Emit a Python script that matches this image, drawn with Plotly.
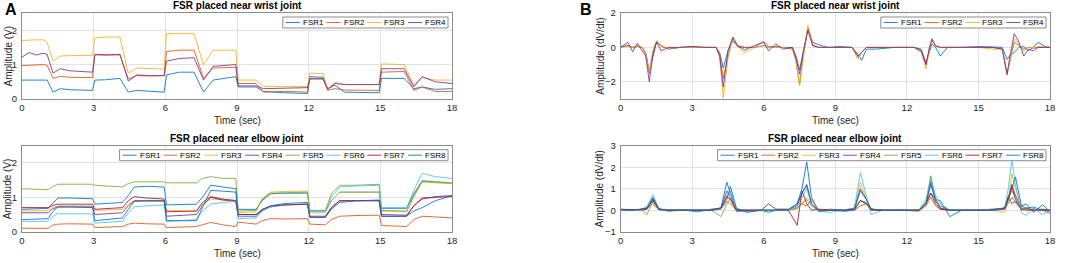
import plotly.graph_objects as go

# ---------------- DATA ----------------
names4 = ["FSR1", "FSR2", "FSR3", "FSR4"]
names8 = ["FSR1", "FSR2", "FSR3", "FSR4", "FSR5", "FSR6", "FSR7", "FSR8"]
colors8 = ["#0072BD", "#D95319", "#EDB120", "#7E2F8E", "#77AC30", "#4DBEEE", "#A2142F", "#0072BD"]
x_ticks = [0, 3, 6, 9, 12, 15, 18]

# Panel A (top): wrist, amplitude (V)
wrist_t = [0, 0.3, 0.6, 0.9, 1.05, 1.3, 1.6, 2.0, 2.95, 3.05, 3.5, 4.1, 4.45, 4.8, 5.3, 5.95, 6.05, 6.6, 7.2, 7.6,
           8.0, 8.95, 9.05, 9.8, 10.1, 11.0, 11.95, 12.05, 12.6, 12.8, 13.1, 13.5, 14.95, 15.05, 16.0, 16.4, 16.75, 17.3, 18.0]
wrist_fsr1 = [0.55, 0.55, 0.56, 0.57, 0.55, 0.2, 0.3, 0.27, 0.25, 0.55, 0.56, 0.6, 0.2, 0.25, 0.22, 0.2, 0.7, 0.78, 0.78, 0.2,
              0.55, 0.65, 0.35, 0.35, 0.22, 0.18, 0.16, 0.65, 0.63, 0.3, 0.4, 0.2, 0.18, 0.6, 0.6, 0.3, 0.35, 0.28, 0.3]
wrist_fsr2 = [0.97, 0.98, 1.0, 1.0, 0.98, 0.6, 0.66, 0.63, 0.62, 1.28, 1.28, 1.28, 0.58, 0.68, 0.67, 0.68, 1.38, 1.42, 1.42, 0.6,
              0.9, 0.92, 0.45, 0.45, 0.2, 0.22, 0.2, 0.6, 0.6, 0.25, 0.3, 0.26, 0.25, 0.78, 0.8, 0.25, 0.35, 0.22, 0.22]
wrist_fsr3 = [1.7, 1.72, 1.72, 1.72, 1.65, 1.1, 1.25, 1.26, 1.27, 1.77, 1.8, 1.8, 0.75, 0.9, 0.88, 0.87, 1.9, 1.9, 1.9, 1.0,
              1.42, 1.42, 0.55, 0.55, 0.37, 0.36, 0.36, 0.75, 0.74, 0.3, 0.48, 0.42, 0.42, 1.02, 1.0, 0.4, 0.62, 0.55, 0.55]
wrist_fsr4 = [1.22, 1.35, 1.28, 1.33, 1.3, 0.75, 0.88, 0.82, 0.78, 1.3, 1.28, 1.3, 0.52, 0.7, 0.68, 0.68, 1.1, 1.18, 1.2, 0.55,
              0.95, 1.0, 0.38, 0.38, 0.3, 0.32, 0.33, 0.58, 0.58, 0.28, 0.45, 0.42, 0.42, 0.88, 0.88, 0.35, 0.65, 0.5, 0.45]

# Panel A (bottom): elbow, amplitude (V)
elbow_t = [0, 1.1, 1.25, 1.5, 2.0, 2.95, 3.05, 4.2, 4.45, 4.7, 5.2, 5.95, 6.05, 7.3, 7.55, 7.9, 8.4, 8.95, 9.05, 9.8,
           10.05, 10.4, 11.0, 11.95, 12.05, 12.7, 12.95, 13.3, 14.0, 14.95, 15.05, 16.1, 16.4, 16.75, 17.3, 18.0]
elbow_fsr1 = [0.65, 0.68, 0.8, 0.98, 0.98, 0.96, 0.8, 0.85, 1.05, 1.3, 1.32, 1.3, 0.78, 0.8, 1.0, 1.35, 1.3, 1.25, 0.65, 0.65,
              0.9, 1.1, 1.12, 1.12, 0.6, 0.6, 0.9, 1.15, 1.15, 1.15, 0.68, 0.68, 1.1, 1.48, 1.45, 1.4]
elbow_fsr2 = [0.1, 0.1, 0.18, 0.22, 0.23, 0.22, 0.12, 0.15, 0.22, 0.25, 0.23, 0.22, 0.12, 0.15, 0.2, 0.27, 0.2, 0.15, 0.28, 0.22,
              0.32, 0.38, 0.37, 0.38, 0.22, 0.2, 0.35, 0.45, 0.47, 0.48, 0.18, 0.15, 0.35, 0.45, 0.43, 0.4]
elbow_fsr3 = [0.6, 0.62, 0.7, 0.75, 0.75, 0.75, 0.62, 0.65, 0.8, 0.9, 0.88, 0.88, 0.62, 0.6, 0.8, 0.95, 0.93, 0.92, 0.55, 0.58,
              0.95, 1.15, 1.17, 1.18, 0.55, 0.55, 0.9, 1.15, 1.15, 1.15, 0.6, 0.58, 1.0, 1.45, 1.42, 1.4]
elbow_fsr4 = [0.55, 0.55, 0.65, 0.72, 0.72, 0.72, 0.5, 0.55, 0.75, 0.9, 0.9, 0.9, 0.45, 0.5, 0.75, 1.0, 0.92, 0.88, 0.5, 0.5,
              0.62, 0.72, 0.78, 0.8, 0.45, 0.45, 0.7, 0.9, 0.9, 0.92, 0.5, 0.48, 0.75, 0.95, 1.02, 1.05]
elbow_fsr5 = [1.25, 1.22, 1.3, 1.38, 1.38, 1.38, 1.35, 1.3, 1.4, 1.45, 1.45, 1.45, 1.42, 1.42, 1.55, 1.6, 1.55, 1.55, 0.6, 0.62,
              0.95, 1.12, 1.13, 1.15, 0.62, 0.62, 1.1, 1.35, 1.35, 1.38, 0.62, 0.6, 1.05, 1.45, 1.45, 1.42]
elbow_fsr6 = [0.3, 0.3, 0.42, 0.52, 0.52, 0.52, 0.25, 0.3, 0.55, 0.72, 0.75, 0.78, 0.3, 0.35, 0.6, 0.8, 0.85, 0.88, 0.38, 0.4,
              0.6, 0.72, 0.78, 0.8, 0.6, 0.6, 1.0, 1.3, 1.33, 1.35, 0.7, 0.7, 1.2, 1.7, 1.6, 1.55]
elbow_fsr7 = [0.7, 0.7, 0.76, 0.8, 0.8, 0.8, 0.65, 0.7, 0.9, 1.02, 0.98, 0.95, 0.58, 0.6, 0.85, 1.02, 0.95, 0.9, 0.5, 0.5,
              0.65, 0.75, 0.78, 0.8, 0.42, 0.42, 0.7, 0.9, 0.9, 0.9, 0.45, 0.45, 0.75, 0.98, 1.0, 1.02]
elbow_fsr8 = [0.35, 0.38, 0.55, 0.72, 0.72, 0.7, 0.32, 0.4, 0.65, 0.88, 0.9, 0.9, 0.32, 0.32, 0.7, 1.2, 1.18, 1.15, 0.45, 0.45,
              0.62, 0.75, 0.82, 0.85, 0.42, 0.42, 0.65, 0.85, 0.9, 0.9, 0.45, 0.45, 0.6, 0.7, 0.9, 1.05]

# Panel B (top): wrist, derivative (dV/dt)
dwrist_t = [0, 0.3, 0.5, 0.7, 0.9, 1.05, 1.2, 1.35, 1.5, 1.7, 2.0, 2.5, 3.0, 3.5, 4.0, 4.15, 4.3, 4.5, 4.7, 4.9,
            5.2, 5.6, 6.0, 6.2, 6.5, 6.8, 7.2, 7.35, 7.5, 7.65, 7.85, 8.05, 8.3, 8.7, 9.2, 9.7, 9.95, 10.1, 10.3, 10.7,
            11.5, 12.3, 12.6, 12.8, 12.95, 13.05, 13.2, 13.4, 13.7, 14.2, 15.0, 15.6, 16.0, 16.2, 16.35, 16.5, 16.7, 16.9,
            17.1, 17.3, 17.5, 17.8, 18.0]
dwrist_fsr1 = [0.05, 0.1, 0.0, 0.05, 0.0, -0.3, -1.4, -0.5, 0.3, 0.1, -0.1, 0.0, 0.05, 0.0, 0.0, -0.3, -1.2, -0.2, 0.4, 0.05,
               0.0, 0.0, 0.1, 0.0, 0.05, 0.0, 0.0, -0.5, -1.3, -0.3, 1.1, 0.3, 0.15, 0.0, 0.05, 0.0, -0.4, -0.75, -0.1, -0.1,
               0.0, 0.0, -0.1, -0.9, -0.3, 0.2, 0.0, -0.5, 0.0, 0.0, 0.05, 0.0, 0.0, -0.7, -0.4, -0.3, 0.0, 0.05,
               -0.2, 0.0, 0.3, 0.05, 0.0]
dwrist_fsr2 = [0.0, 0.1, 0.0, 0.1, 0.0, -0.4, -1.5, -0.3, 0.35, 0.05, -0.05, 0.0, 0.0, 0.0, 0.0, -0.4, -1.8, -0.5, 0.55, 0.1,
               0.0, 0.0, 0.35, 0.05, 0.0, 0.0, -0.1, -0.8, -2.2, -0.5, 1.1, 0.1, 0.0, 0.0, 0.0, 0.0, -0.6, -0.3, 0.0, 0.0,
               0.0, 0.0, -0.2, -1.0, 0.0, 0.45, 0.1, 0.0, 0.0, 0.0, 0.0, 0.0, -0.1, -1.6, -0.6, 0.3, 0.1, -0.1,
               0.0, -0.05, 0.0, 0.0, 0.0]
dwrist_fsr3 = [0.0, 0.05, 0.0, 0.05, 0.0, -0.4, -1.4, -0.2, 0.4, 0.1, -0.05, 0.0, 0.0, 0.0, 0.0, -0.6, -2.95, -0.6, 0.6, 0.05,
               -0.3, 0.0, 0.1, 0.0, 0.0, 0.0, -0.1, -0.8, -2.2, -0.6, 1.3, 0.2, 0.0, 0.0, 0.0, 0.0, -0.7, -0.3, 0.0, 0.0,
               0.0, 0.0, -0.3, -1.25, -0.1, 0.4, 0.05, 0.0, 0.0, 0.0, 0.0, -0.1, -0.1, -1.5, -0.4, 0.5, 0.2, -0.2,
               0.0, 0.0, 0.05, 0.0, 0.0]
dwrist_fsr4 = [0.0, 0.3, -0.25, 0.25, -0.2, -0.5, -2.0, -0.4, 0.3, -0.2, 0.0, 0.0, 0.05, 0.0, 0.0, -0.5, -2.3, -0.2, 0.6, 0.1,
               -0.15, 0.1, 0.3, -0.2, 0.2, -0.1, 0.0, -0.6, -1.55, -0.3, 1.0, 0.1, 0.0, 0.0, 0.0, 0.0, -0.5, -0.3, 0.0, 0.0,
               0.0, 0.0, -0.2, -1.0, 0.0, 0.5, 0.1, 0.0, 0.0, 0.0, 0.0, 0.0, -0.1, -1.55, -0.3, 0.8, 0.3, -0.5,
               -0.1, -0.2, 0.0, 0.0, 0.0]

# Panel B (bottom): elbow, derivative (dV/dt)
delbow_t = [0, 0.5, 0.9, 1.1, 1.35, 1.6, 2.0, 2.6, 3.2, 3.8, 4.2, 4.45, 4.6, 4.85, 5.3, 5.9, 6.2, 6.5, 7.0, 7.4,
            7.6, 7.8, 8.0, 8.3, 8.8, 9.4, 9.8, 10.05, 10.3, 10.5, 11.0, 11.8, 12.5, 12.8, 13.0, 13.2, 13.4, 13.8, 14.3, 15.0,
            15.6, 16.1, 16.25, 16.4, 16.55, 16.8, 17.0, 17.3, 17.7, 18.0]
delbow_fsr1 = [0.02, 0.0, 0.05, 0.1, 0.6, 0.05, -0.05, 0.03, -0.08, 0.05, 0.1, 1.3, 0.8, -0.05, -0.05, 0.0, -0.1, 0.0, 0.02, 0.3,
               1.0, 2.25, 0.6, -0.05, 0.0, -0.05, 0.0, 0.45, 0.35, 0.05, 0.0, 0.0, 0.0, 0.3, 0.8, 0.5, 0.45, -0.3, 0.0, 0.0,
               0.05, 0.1, 0.65, 0.3, 0.4, 0.2, 0.3, -0.1, 0.25, -0.1]
delbow_fsr2 = [0.0, 0.02, 0.0, 0.05, 0.3, 0.0, 0.02, 0.0, 0.0, 0.02, 0.1, 0.4, 0.3, 0.0, 0.0, 0.02, 0.0, 0.0, 0.0, 0.1,
               0.3, 0.2, 0.5, 0.0, 0.05, 0.0, 0.0, 0.2, 0.3, 0.05, 0.0, 0.0, -0.05, 0.2, 0.6, 0.2, 0.05, 0.0, 0.0, 0.0,
               0.0, 0.05, 0.3, 0.6, 0.35, 0.05, 0.0, 0.05, 0.0, -0.15]
delbow_fsr3 = [0.0, 0.0, 0.02, 0.1, 0.45, 0.05, 0.0, 0.0, 0.0, 0.0, 0.1, 0.6, 0.5, 0.0, 0.0, 0.0, 0.0, 0.0, 0.0, 0.05,
               0.3, 0.6, 0.3, 0.0, 0.0, 0.0, 0.1, 1.3, 0.5, 0.05, 0.0, 0.0, 0.0, 0.4, 1.55, 0.6, 0.1, 0.0, 0.0, 0.0,
               0.0, -0.1, 0.4, 1.7, 1.0, 0.2, 0.0, 0.05, 0.0, -0.05]
delbow_fsr4 = [0.0, 0.0, 0.02, 0.05, 0.5, 0.05, 0.0, 0.0, 0.0, 0.0, 0.1, 0.9, 0.6, 0.0, 0.0, 0.0, 0.0, 0.0, 0.0, 0.2,
               0.8, 1.15, 0.3, 0.0, 0.0, 0.0, 0.1, 1.0, 0.5, 0.05, 0.0, 0.0, 0.0, 0.3, 1.2, 0.5, 0.1, 0.0, 0.0, 0.0,
               0.0, 0.05, 0.5, 1.2, 0.7, 0.1, 0.0, 0.0, 0.05, 0.0]
delbow_fsr5 = [0.0, 0.0, 0.0, -0.2, 0.4, 0.05, 0.0, 0.0, 0.0, 0.0, -0.3, 0.3, 0.55, 0.05, 0.0, 0.0, 0.0, 0.0, 0.0, 0.1,
               0.3, 0.5, 0.2, 0.0, 0.0, 0.0, 0.05, 0.45, 0.3, 0.0, 0.0, 0.0, 0.0, 0.3, 1.6, 0.5, 0.05, 0.0, 0.0, 0.0,
               0.0, 0.1, 0.5, 0.9, 0.6, 0.1, 0.0, 0.05, 0.0, 0.0]
delbow_fsr6 = [0.0, 0.0, 0.05, 0.2, 0.72, 0.1, -0.05, 0.0, -0.05, 0.0, 0.1, 0.7, 0.9, 0.05, -0.05, 0.0, 0.0, 0.0, 0.0, 0.15,
               0.6, 1.0, 0.3, -0.05, -0.1, 0.0, 0.1, 1.75, 0.6, -0.2, 0.0, 0.0, 0.0, 0.5, 1.45, 0.7, 0.3, 0.0, 0.0, 0.0,
               0.0, 0.1, 1.0, 2.35, 1.2, -0.1, -0.25, 0.1, -0.2, 0.0]
delbow_fsr7 = [0.05, 0.02, 0.05, 0.1, 0.45, 0.05, 0.0, 0.0, 0.0, 0.0, 0.1, 0.65, 0.5, 0.0, 0.0, 0.0, 0.3, 0.05, 0.05, -0.7,
               0.9, 0.3, 0.0, 0.05, 0.0, 0.0, 0.05, 0.45, 0.3, 0.0, 0.0, 0.0, 0.0, 0.3, 0.8, 0.3, 0.05, 0.0, 0.0, 0.0,
               0.0, 0.1, 0.6, 1.1, 0.5, 0.0, 0.1, 0.0, 0.0, 0.0]
delbow_fsr8 = [0.0, 0.0, 0.05, 0.1, 0.55, 0.05, 0.0, 0.0, 0.0, 0.0, 0.05, 0.5, 1.1, 0.1, -0.1, 0.0, 0.0, 0.0, 0.0, 0.3,
               0.8, 1.2, 0.3, -0.05, 0.0, 0.0, 0.05, 0.9, 0.5, 0.05, 0.0, 0.0, 0.0, 0.3, 1.3, 0.4, 0.2, 0.0, 0.0, 0.0,
               0.0, 0.1, 0.5, 1.0, 1.55, 0.2, 0.1, 0.15, 0.0, 0.0]

# ---------------- LAYOUT ----------------
W, H = 1074, 263
FONT = "Liberation Sans, Arial, sans-serif"


def px(x):
    return x / W


def py(y):
    return 1 - y / H


panels = [
    dict(ax="", x0=22, x1=452, y0=13, y1=99, yr=[0, 2.5], yt=[0, 1, 2], ytitle="Amplitude (V)",
         title="FSR placed near wrist joint", t=wrist_t, ys=[wrist_fsr1, wrist_fsr2, wrist_fsr3, wrist_fsr4]),
    dict(ax="2", x0=22, x1=452, y0=145.7, y1=231.7, yr=[0, 2.5], yt=[0, 1, 2], ytitle="Amplitude (V)",
         title="FSR placed near elbow joint", t=elbow_t,
         ys=[elbow_fsr1, elbow_fsr2, elbow_fsr3, elbow_fsr4, elbow_fsr5, elbow_fsr6, elbow_fsr7, elbow_fsr8]),
    dict(ax="3", x0=620.7, x1=1050, y0=13, y1=99, yr=[-3, 2], yt=[-2, 0, 2], ytitle="Amplitude (dV/dt)",
         title="FSR placed near wrist joint", t=dwrist_t, ys=[dwrist_fsr1, dwrist_fsr2, dwrist_fsr3, dwrist_fsr4]),
    dict(ax="4", x0=620.7, x1=1050, y0=145.7, y1=231.7, yr=[-1, 3], yt=[-1, 0, 1, 2, 3], ytitle="Amplitude (dV/dt)",
         title="FSR placed near elbow joint", t=delbow_t,
         ys=[delbow_fsr1, delbow_fsr2, delbow_fsr3, delbow_fsr4, delbow_fsr5, delbow_fsr6, delbow_fsr7, delbow_fsr8]),
]

fig = go.Figure()
layout = dict(width=W, height=H, margin=dict(l=0, r=0, t=0, b=0, autoexpand=False), paper_bgcolor="white",
              plot_bgcolor="white", showlegend=False, font=dict(family=FONT, color="#262626"))
shapes = []
annotations = []

axis_common = dict(showline=True, mirror=True, linecolor="#8c8c8c", linewidth=1, showgrid=True,
                   gridcolor="#e2e2e2", gridwidth=1, zeroline=False, ticks="", ticklen=0, automargin=False,
                   tickfont=dict(family=FONT, size=9.5, color="#262626"))

for p in panels:
    a = p["ax"]
    xname, yname = "xaxis" + a, "yaxis" + a
    layout[xname] = dict(axis_common, domain=[px(p["x0"]), px(p["x1"])], range=[0, 18], tickvals=x_ticks,
                         anchor="y" + a, ticklabelstandoff=0)
    layout[yname] = dict(axis_common, domain=[py(p["y1"]), py(p["y0"])], range=p["yr"], tickvals=p["yt"],
                         anchor="x" + a, ticklabelstandoff=2)
    n = len(p["ys"])
    names = names4 if n == 4 else names8
    for i, yv in enumerate(p["ys"]):
        fig.add_trace(go.Scatter(x=p["t"], y=yv, mode="lines", name=names[i], opacity=0.85,
                                 line=dict(color=colors8[i], width=1),
                                 xaxis="x" + a, yaxis="y" + a, showlegend=False))
    cx = (p["x0"] + p["x1"]) / 2
    # panel title
    annotations.append(dict(text="<b>" + p["title"] + "</b>", x=px(cx), y=py(p["y0"] - 7), xref="paper",
                            yref="paper", showarrow=False, xanchor="center", yanchor="middle",
                            font=dict(family=FONT, size=10, color="#000000")))
    # x title
    annotations.append(dict(text="Time (sec)", x=px(cx), y=py(p["y1"] + 21.5), xref="paper", yref="paper",
                            showarrow=False, xanchor="center", yanchor="middle",
                            font=dict(family=FONT, size=10, color="#262626")))
    # y title
    annotations.append(dict(text=p["ytitle"], x=px(p["x0"] - 14.5 if a in ("", "2") else p["x0"] - 21),
                            y=py((p["y0"] + p["y1"]) / 2), xref="paper", yref="paper", showarrow=False,
                            textangle=-90, xanchor="center", yanchor="middle",
                            font=dict(family=FONT, size=10, color="#262626")))
    # legend (MATLAB style box, top-right inside axes)
    pitch = 40.8
    bw = n * pitch + 2
    br = p["x1"] - 4
    bl = br - bw
    bt = p["y0"] + 4
    bb = bt + 11
    shapes.append(dict(type="rect", xref="paper", yref="paper", x0=px(bl), x1=px(br), y0=py(bb), y1=py(bt),
                       line=dict(color="#8c8c8c", width=1), fillcolor="white", layer="above"))
    ym = (bt + bb) / 2
    for i in range(n):
        lx = bl + 3 + i * pitch
        shapes.append(dict(type="line", xref="paper", yref="paper", x0=px(lx), x1=px(lx + 14), y0=py(ym),
                           y1=py(ym), line=dict(color=colors8[i], width=1), opacity=0.85, layer="above"))
        annotations.append(dict(text=names[i], x=px(lx + 15), y=py(ym), xref="paper", yref="paper",
                                showarrow=False, xanchor="left", yanchor="middle",
                                font=dict(family=FONT, size=8, color="#000000")))

# panel letters
annotations.append(dict(text="<b>A</b>", x=px(11), y=1.0, xref="paper", yref="paper", showarrow=False,
                        xanchor="center", yanchor="top", borderpad=0,
                        font=dict(family=FONT, size=16, color="#000000")))
annotations.append(dict(text="<b>B</b>", x=px(586), y=1.0, xref="paper", yref="paper", showarrow=False,
                        xanchor="center", yanchor="top", borderpad=0,
                        font=dict(family=FONT, size=16, color="#000000")))

layout["shapes"] = shapes
layout["annotations"] = annotations
fig.update_layout(**layout)
fig.write_html("out.html", config={"displayModeBar": False, "staticPlot": True},
               post_script="document.body.style.margin='0';document.body.style.overflow='hidden';")
